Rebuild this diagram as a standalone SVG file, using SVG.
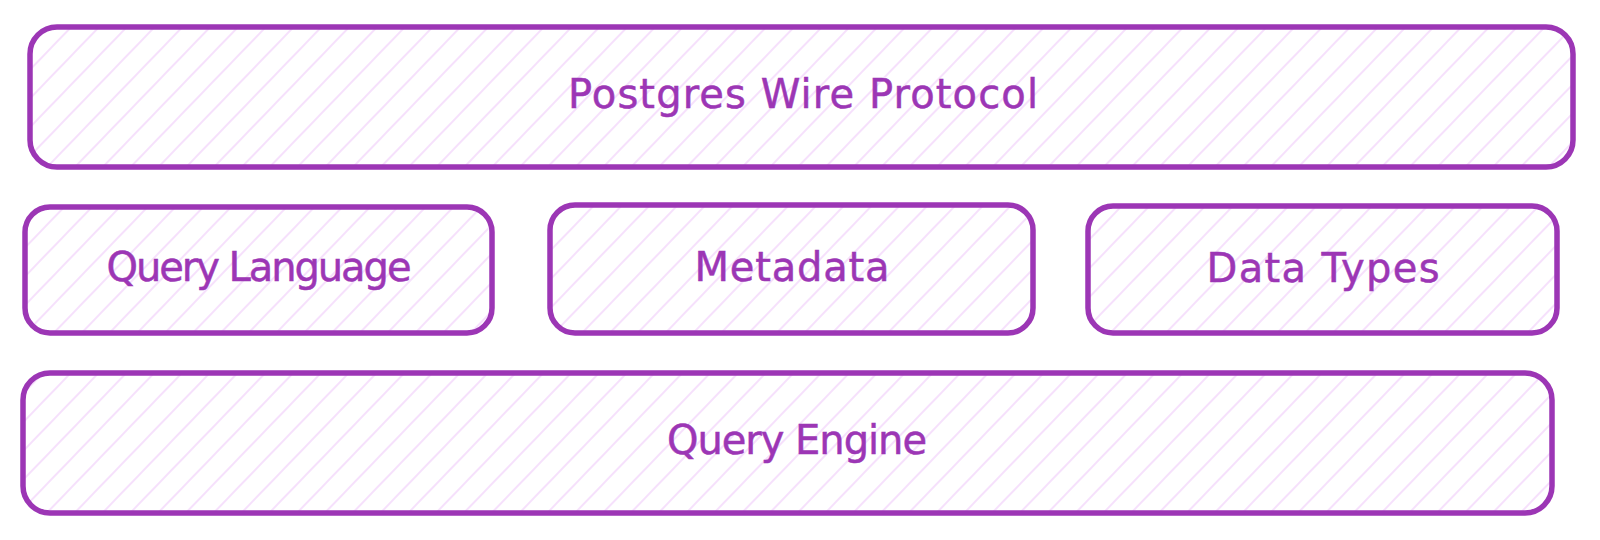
<svg xmlns="http://www.w3.org/2000/svg" width="1600" height="540" viewBox="0 0 1600 540">
  <defs>
    <pattern id="hatch" patternUnits="userSpaceOnUse" width="20" height="20" patternTransform="rotate(44)">
      <line x1="10" y1="0" x2="10" y2="20" stroke="#f4d9fb" stroke-width="1.6"/>
    </pattern>
  </defs>
  <style>
    .box { fill: url(#hatch); stroke: #9c36b5; stroke-width: 5.5; stroke-linejoin: round; }
    .lbl { font-family: "DejaVu Sans", "Liberation Sans", sans-serif; font-size: 40px; fill: #9c36b5; stroke: #9c36b5; stroke-width: 0.5; text-anchor: middle; }
  </style>
  <rect width="1600" height="540" fill="#ffffff"/>
  <g id="postgres-wire-protocol">
    <rect class="box" x="30" y="27" width="1543" height="140" rx="27" ry="27"/>
    <text class="lbl" x="803" y="108" textLength="470">Postgres Wire Protocol</text>
  </g>
  <g id="query-language">
    <rect class="box" x="25" y="207" width="467" height="126" rx="25" ry="25"/>
    <text class="lbl" x="259" y="281" font-size="37" textLength="305">Query Language</text>
  </g>
  <g id="metadata">
    <rect class="box" x="550" y="205" width="483" height="128" rx="25" ry="25"/>
    <text class="lbl" x="792" y="281" textLength="195">Metadata</text>
  </g>
  <g id="data-types">
    <rect class="box" x="1088" y="206" width="469" height="127" rx="25" ry="25"/>
    <text class="lbl" x="1323" y="282" textLength="233">Data Types</text>
  </g>
  <g id="query-engine">
    <rect class="box" x="23" y="373" width="1529" height="140" rx="27" ry="27"/>
    <text class="lbl" x="797" y="454" font-size="39" textLength="260">Query Engine</text>
  </g>
  <g id="connectors"></g>
</svg>
